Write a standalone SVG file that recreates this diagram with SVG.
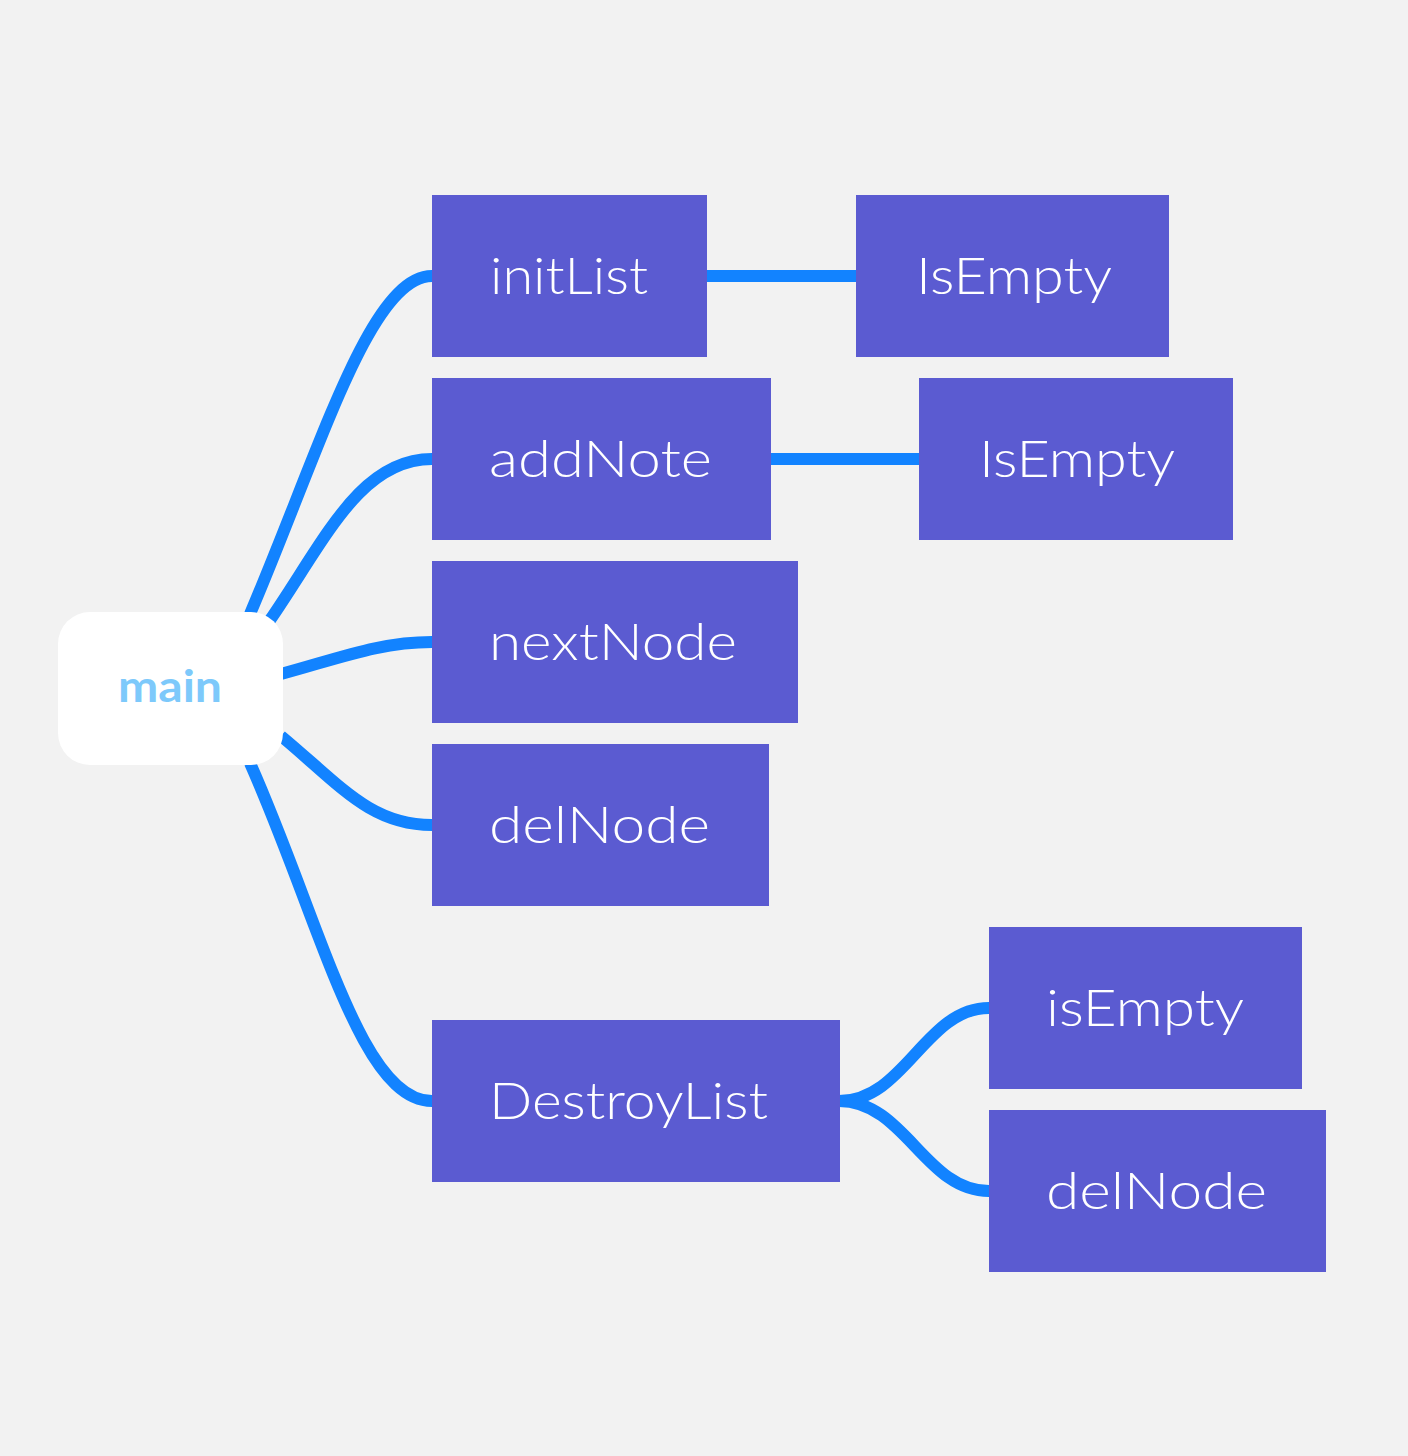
<svg xmlns="http://www.w3.org/2000/svg" width="1408" height="1456" viewBox="0 0 1408 1456">
<style>
.box{fill:#5b5bd1;}
.lbl{font-family:"Lato","Noto Sans","Liberation Sans",sans-serif;font-weight:300;font-size:52px;fill:#ffffff;}
.main{font-family:"Lato","Noto Sans","Liberation Sans",sans-serif;font-weight:700;font-size:44px;fill:#7dc9fb;}
.edge{fill:none;stroke:#1283ff;stroke-width:12;}
</style>
<rect x="0" y="0" width="1408" height="1456" fill="#f2f2f2"/>
<g id="connectors">
<path class="edge" d="M250,614 C320,450 370,276 432,276"/>
<path class="edge" d="M270,620 C325,540 360,459 432,459"/>
<path class="edge" d="M281,674 C340,658 380,642 432,642"/>
<path class="edge" d="M281,736 C340,785 370,825 432,825"/>
<path class="edge" d="M250,763 C320,920 360,1101 432,1101"/>
<path class="edge" d="M707,276 L856,276"/>
<path class="edge" d="M770,459 L920,459"/>
<path class="edge" d="M839,1101 C905,1101 925,1008 989,1008"/>
<path class="edge" d="M839,1101 C905,1101 925,1191 989,1191"/>
</g>
<g id="main">
<rect x="58" y="612" width="225" height="153" rx="32" fill="#ffffff"/>
<text class="main" x="118" y="702" textLength="104" lengthAdjust="spacingAndGlyphs">main</text>
</g>
<g id="initList">
<rect class="box" x="432" y="195" width="275" height="162"/>
<text class="lbl" x="490" y="294" textLength="158" lengthAdjust="spacingAndGlyphs">initList</text>
</g>
<g id="isEmpty1">
<rect class="box" x="856" y="195" width="313" height="162"/>
<text class="lbl" x="916" y="294" textLength="196" lengthAdjust="spacingAndGlyphs">IsEmpty</text>
</g>
<g id="addNote">
<rect class="box" x="432" y="378" width="339" height="162"/>
<text class="lbl" x="489" y="477" textLength="223" lengthAdjust="spacingAndGlyphs">addNote</text>
</g>
<g id="isEmpty2">
<rect class="box" x="919" y="378" width="314" height="162"/>
<text class="lbl" x="979" y="477" textLength="196" lengthAdjust="spacingAndGlyphs">IsEmpty</text>
</g>
<g id="nextNode">
<rect class="box" x="432" y="561" width="366" height="162"/>
<text class="lbl" x="489" y="660" textLength="248" lengthAdjust="spacingAndGlyphs">nextNode</text>
</g>
<g id="delNode">
<rect class="box" x="432" y="744" width="337" height="162"/>
<text class="lbl" x="489" y="843" textLength="221" lengthAdjust="spacingAndGlyphs">delNode</text>
</g>
<g id="destroyList">
<rect class="box" x="432" y="1020" width="408" height="162"/>
<text class="lbl" x="489" y="1119" textLength="279" lengthAdjust="spacingAndGlyphs">DestroyList</text>
</g>
<g id="isEmpty3">
<rect class="box" x="989" y="927" width="313" height="162"/>
<text class="lbl" x="1046" y="1026" textLength="198" lengthAdjust="spacingAndGlyphs">isEmpty</text>
</g>
<g id="delNode2">
<rect class="box" x="989" y="1110" width="337" height="162"/>
<text class="lbl" x="1046" y="1209" textLength="221" lengthAdjust="spacingAndGlyphs">delNode</text>
</g>
</svg>
